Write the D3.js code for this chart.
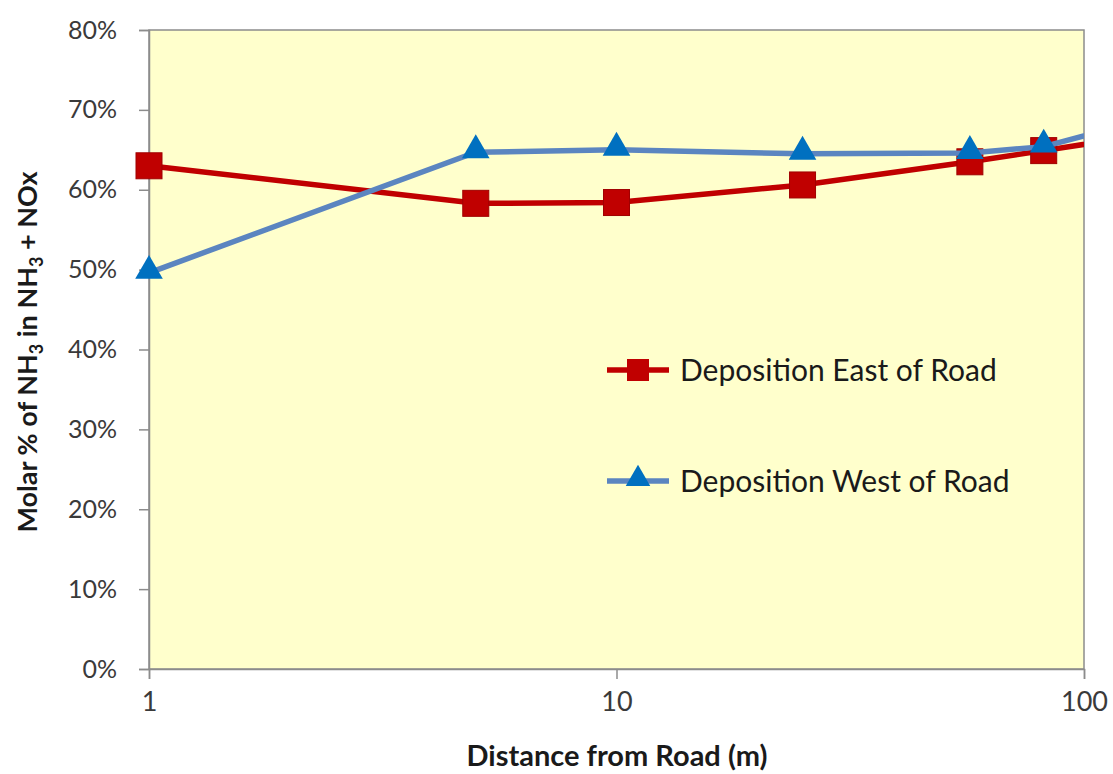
<!DOCTYPE html>
<html><head><meta charset="utf-8">
<script src="https://cdn.jsdelivr.net/npm/d3@7"></script>
<style>body{margin:0;background:#fff}svg{display:block}text{font-family:Lato,"Open Sans",sans-serif}</style>
</head><body>
<svg id="c" width="1113" height="774"></svg>
<script>
const distances = [1, 5, 10, 25, 57, 82, 120];
const eastValues = [0.630, 0.583, 0.584, 0.606, 0.635, 0.649, 0.664];
const westValues = [0.496, 0.647, 0.650, 0.645, 0.646, 0.654, 0.680];
const yTicks = [0, 0.1, 0.2, 0.3, 0.4, 0.5, 0.6, 0.7, 0.8];
const xTicks = [1, 10, 100];
const seriesNames = ["Deposition East of Road", "Deposition West of Road"];

const svg = d3.select("#c");
const m = {l:149, r:1084, t:30, b:669};
const x = d3.scaleLog().domain([1,100]).range([m.l, m.r]);
const y = d3.scaleLinear().domain([0,0.8]).range([m.b, m.t]);

svg.append("rect").attr("x",m.l).attr("y",m.t).attr("width",m.r-m.l).attr("height",m.b-m.t)
  .attr("fill","#FFFFCC").attr("stroke","#8C8C8C").attr("stroke-width",1.5);

svg.append("defs").append("clipPath").attr("id","clip").append("rect")
  .attr("x",m.l-20).attr("y",m.t-20).attr("width",m.r-m.l+20).attr("height",m.b-m.t+40);

// y axis
const ya = svg.append("g").attr("transform",`translate(${m.l},0)`)
  .call(d3.axisLeft(y).tickValues(yTicks).tickFormat(d3.format(".0%")).tickSize(10).tickPadding(22));
ya.select(".domain").attr("stroke","#8C8C8C").attr("stroke-width",1.5);
ya.selectAll(".tick line").attr("stroke","#8C8C8C").attr("stroke-width",1.5);
ya.selectAll(".tick text").attr("font-size",25).attr("fill","#3A3A3A").attr("font-family","Lato");

// x axis
const xa = svg.append("g").attr("transform",`translate(0,${m.b})`)
  .call(d3.axisBottom(x).tickValues(xTicks).tickFormat(d3.format("d")).tickSize(10).tickPadding(13));
xa.select(".domain").attr("stroke","#8C8C8C").attr("stroke-width",1.5);
xa.selectAll(".tick line").attr("stroke","#8C8C8C").attr("stroke-width",1.5);
xa.selectAll(".tick text").attr("font-size",27).attr("fill","#3A3A3A").attr("font-family","Lato");

// titles
svg.append("text").attr("x",617).attr("y",766).attr("text-anchor","middle")
  .attr("font-size",29).attr("font-weight","bold").attr("fill","#1A1A1A").text("Distance from Road (m)");
const yt = svg.append("text").attr("transform",`translate(37,352) rotate(-90)`)
  .attr("text-anchor","middle").attr("font-size",27).attr("font-weight","bold").attr("fill","#1A1A1A");
yt.append("tspan").text("Molar % of NH");
yt.append("tspan").attr("font-size",18).attr("dy",6).text("3");
yt.append("tspan").attr("dy",-6).text(" in NH");
yt.append("tspan").attr("font-size",18).attr("dy",6).text("3");
yt.append("tspan").attr("dy",-6).text(" + NOx");

const line = d3.line().x(d=>x(d[0])).y(d=>y(d[1]));
const east = distances.map((d,i)=>[d,eastValues[i]]);
const west = distances.map((d,i)=>[d,westValues[i]]);
const g = svg.append("g").attr("clip-path","url(#clip)");

g.append("path").datum(east).attr("d",line).attr("fill","none").attr("stroke","#C00000").attr("stroke-width",5.5);
g.selectAll(".sq").data(east.filter(d=>d[0]<=100)).join("rect")
  .attr("x",d=>x(d[0])-13).attr("y",d=>y(d[1])-13).attr("width",26).attr("height",26)
  .attr("fill","#C00000").attr("stroke","#A00000").attr("stroke-width",1);

g.append("path").datum(west).attr("d",line).attr("fill","none").attr("stroke","#5B85C0").attr("stroke-width",5.5);
const tri = d3.symbol().type(d3.symbolTriangle).size(330);
g.selectAll(".tr").data(west.filter(d=>d[0]<=100)).join("path")
  .attr("d",tri).attr("transform",d=>`translate(${x(d[0])},${y(d[1])-2})`)
  .attr("fill","#0070C0");

// legend
const leg = svg.append("g");
const ly = [370, 481];
[["#C00000","sq"],["#5B85C0","tr"]].forEach((s,i)=>{
  leg.append("line").attr("x1",607).attr("x2",669).attr("y1",ly[i]).attr("y2",ly[i]).attr("stroke",s[0]).attr("stroke-width",5.5);
  if(s[1]==="sq") leg.append("rect").attr("x",638-11).attr("y",ly[i]-11).attr("width",22).attr("height",22).attr("fill","#C00000");
  else leg.append("path").attr("d",d3.symbol().type(d3.symbolTriangle).size(260)).attr("transform",`translate(638,${ly[i]-2})`).attr("fill","#0070C0");
  leg.append("text").attr("x",680).attr("y",ly[i]+11).attr("font-size",30).attr("fill","#1A1A1A").text(seriesNames[i]);
});
</script>
</body></html>
